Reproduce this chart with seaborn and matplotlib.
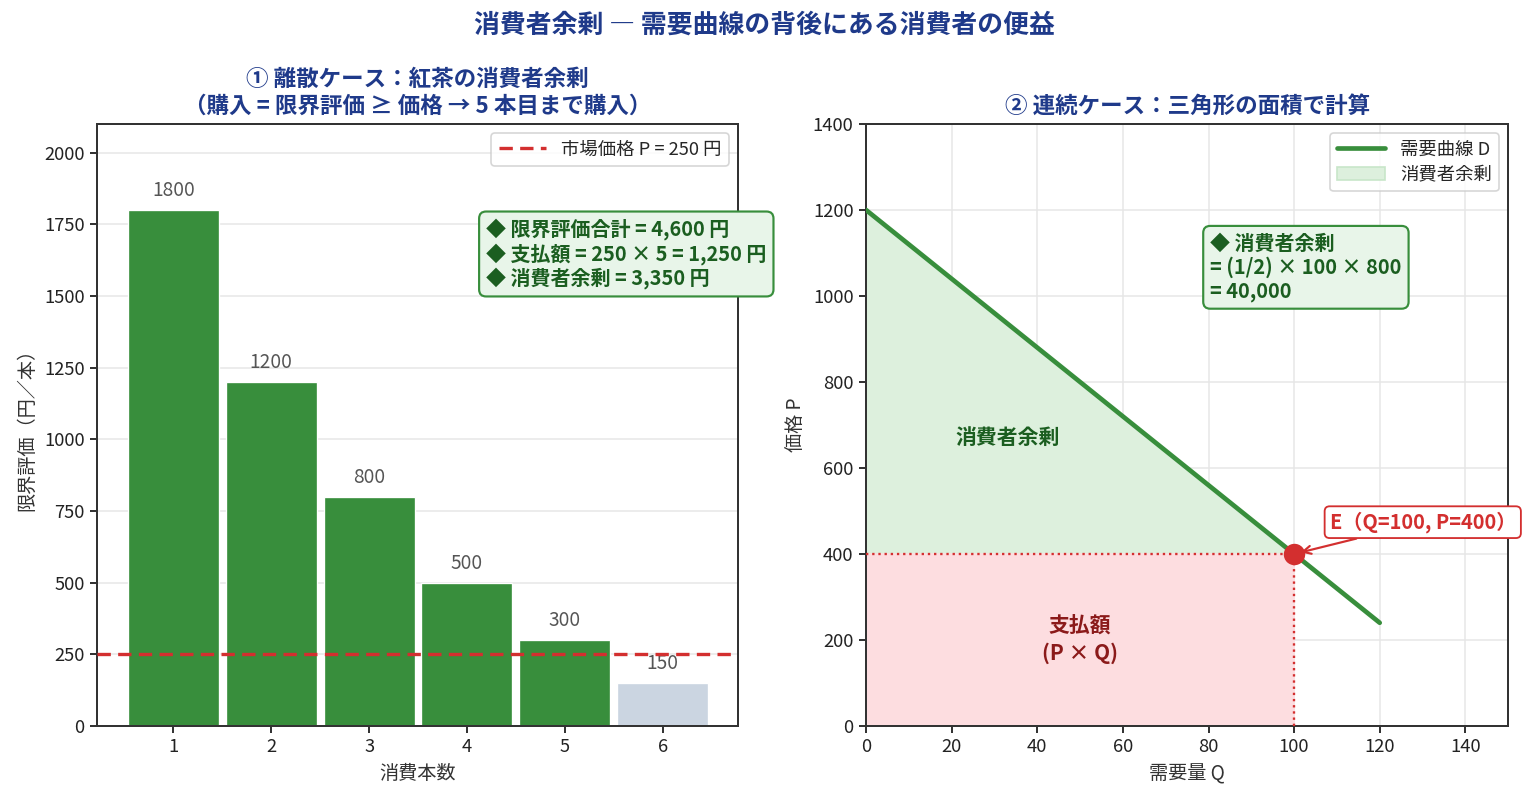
import matplotlib
matplotlib.use("Agg")
import matplotlib.pyplot as plt
import seaborn as sns
import numpy as np
import pandas as pd
from matplotlib.patches import Patch
from matplotlib.lines import Line2D

# ---- data ----
units = [1, 2, 3, 4, 5, 6]
marginal_values = [1800, 1200, 800, 500, 300, 150]
market_price = 250
demand_q = [0, 120]
demand_p = [1200, 240]
eq_q = 100
eq_p = 400

sns.set_theme(style="ticks")
plt.rcParams['font.family'] = ['Noto Sans CJK JP', 'DejaVu Sans']
plt.rcParams['axes.unicode_minus'] = False

GREEN = "#388E3C"
DGREEN = "#1B5E20"
RED = "#D32F2F"
NAVY = "#1F3A8A"
GRAYBAR = "#CBD5E1"

DPI = 120
fig = plt.figure(figsize=(1528 / DPI, 797 / DPI), dpi=DPI)
ax1 = fig.add_axes([0.0635, 0.0891, 0.4195, 0.7553])
ax2 = fig.add_axes([0.5668, 0.0891, 0.4202, 0.7553])

for ax in (ax1, ax2):
    for s in ax.spines.values():
        s.set_color("#333333")
        s.set_linewidth(1.2)
    ax.tick_params(colors="#222222", labelsize=11, width=1.1, length=4)

# ---- left: discrete ----
df = pd.DataFrame({"unit": units, "value": marginal_values})
colors = [GREEN if v >= market_price else GRAYBAR for v in marginal_values]
ax1.bar(df["unit"], df["value"], width=0.93, color=colors, edgecolor="white", linewidth=0.8, zorder=2)
for u, v in zip(units, marginal_values):
    ax1.text(u, v + 30, f"{v}", ha="center", va="bottom", fontsize=11.5, color="#555555")
ax1.axhline(market_price, color=RED, linestyle="--", linewidth=2.0, dashes=(4, 2.2), zorder=3,
            label=f"市場価格 P = {market_price} 円")
ax1.set_xlim(0.22, 6.77)
ax1.set_ylim(0, 2100)
ax1.set_xticks(units)
ax1.set_yticks([0, 250, 500, 750, 1000, 1250, 1500, 1750, 2000])
ax1.yaxis.grid(True, color="#E6E6E6", linewidth=0.9, zorder=0)
ax1.set_axisbelow(True)
ax1.set_xlabel("消費本数", fontsize=11.5, color="#333333")
ax1.set_ylabel("限界評価（円／本）", fontsize=11.5, color="#333333")
ax1.set_title("① 離散ケース：紅茶の消費者余剰\n（購入 = 限界評価 ≥ 価格 → 5 本目まで購入）",
              fontsize=13.5, fontweight="bold", color=NAVY, pad=7, linespacing=1.2)
leg1 = ax1.legend(loc="upper right", fontsize=11, frameon=True, borderpad=0.4, handlelength=2.6)
leg1.get_frame().set_edgecolor("#CCCCCC")
n_buy = sum(1 for v in marginal_values if v >= market_price)
total = sum(v for v in marginal_values if v >= market_price)
pay = market_price * n_buy
ax1.text(0.607, 0.843,
         f"◆ 限界評価合計 = {total:,} 円\n◆ 支払額 = {market_price} × {n_buy} = {pay:,} 円\n◆ 消費者余剰 = {total - pay:,} 円",
         transform=ax1.transAxes, ha="left", va="top", fontsize=12, fontweight="bold",
         color=DGREEN, linespacing=1.15, zorder=5,
         bbox=dict(boxstyle="round,pad=0.35", facecolor="#E8F5E9", edgecolor=GREEN, linewidth=1.3))

# ---- right: continuous ----
line_df = pd.DataFrame({"Q": demand_q, "P": demand_p})
slope = (demand_p[1] - demand_p[0]) / (demand_q[1] - demand_q[0])
qs = np.array([0, eq_q])
ps = demand_p[0] + slope * qs
ax2.fill_between(qs, eq_p, ps, color="#DDF0DD", zorder=1)
ax2.fill_between(qs, 0, eq_p, color="#FDDDE0", zorder=1)
sns.lineplot(data=line_df, x="Q", y="P", ax=ax2, color=GREEN, linewidth=2.8, zorder=4)
ax2.plot([0, eq_q], [eq_p, eq_p], color=RED, linestyle=":", linewidth=1.4, zorder=3)
ax2.plot([eq_q, eq_q], [0, eq_p], color=RED, linestyle=":", linewidth=1.4, zorder=3)
ax2.scatter([eq_q], [eq_p], s=140, color=RED, zorder=6)
ax2.annotate(f"E（Q={eq_q}, P={eq_p}）", xy=(eq_q, eq_p), xytext=(108.3, 474),
             fontsize=12, fontweight="bold", color=RED, ha="left", va="center", zorder=7,
             bbox=dict(boxstyle="round,pad=0.25", facecolor="white", edgecolor=RED, linewidth=1.1),
             arrowprops=dict(arrowstyle="->", color=RED, linewidth=1.3, shrinkA=0, shrinkB=4))
ax2.text(33, 670, "消費者余剰", ha="center", va="center", fontsize=12.5, fontweight="bold", color=DGREEN, zorder=5)
ax2.text(50, 200, "支払額\n(P × Q)", ha="center", va="center", fontsize=12.5, fontweight="bold",
         color="#8B1A1A", linespacing=1.3, zorder=5)
ax2.set_xlim(0, 150)
ax2.set_ylim(0, 1400)
ax2.set_xticks([0, 20, 40, 60, 80, 100, 120, 140])
ax2.set_yticks([0, 200, 400, 600, 800, 1000, 1200, 1400])
ax2.grid(True, color="#E6E6E6", linewidth=0.9, zorder=0)
ax2.set_axisbelow(True)
ax2.set_xlabel("需要量 Q", fontsize=11.5, color="#333333")
ax2.set_ylabel("価格 P", fontsize=11.5, color="#333333")
ax2.set_title("② 連続ケース：三角形の面積で計算", fontsize=13.5, fontweight="bold", color=NAVY, pad=7)
cs = 0.5 * eq_q * (demand_p[0] - eq_p)
ax2.text(0.536, 0.82, f"◆ 消費者余剰\n= (1/2) × {eq_q} × {demand_p[0] - eq_p}\n= {cs:,.0f}",
         transform=ax2.transAxes, ha="left", va="top", fontsize=12, fontweight="bold",
         color=DGREEN, linespacing=1.15, zorder=5,
         bbox=dict(boxstyle="round,pad=0.35", facecolor="#E8F5E9", edgecolor=GREEN, linewidth=1.3))
handles = [Line2D([0], [0], color=GREEN, linewidth=2.8), Patch(facecolor="#DDF0DD", edgecolor="#C8E6C9")]
leg2 = ax2.legend(handles, ["需要曲線 D", "消費者余剰"], loc="upper right", fontsize=11, frameon=True,
                  borderpad=0.4, labelspacing=0.4, handlelength=2.6)
leg2.get_frame().set_edgecolor("#CCCCCC")

fig.suptitle("消費者余剰 ― 需要曲線の背後にある消費者の便益", fontsize=15.5, fontweight="bold",
             color=NAVY, y=0.985)

fig.savefig("out.png", dpi=DPI)
